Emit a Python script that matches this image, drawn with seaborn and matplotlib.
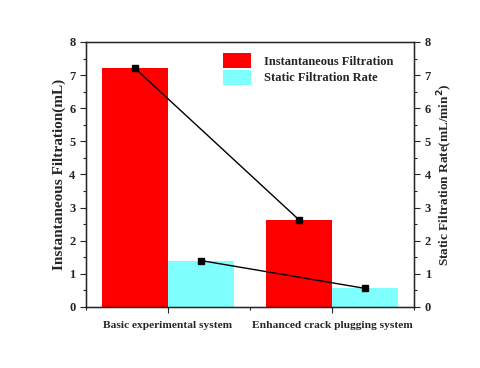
import numpy as np
import pandas as pd
import matplotlib
matplotlib.use("Agg")
import matplotlib.pyplot as plt
import seaborn as sns
from matplotlib.ticker import MultipleLocator, FixedLocator

categories = ["Basic experimental system", "Enhanced crack plugging system"]
instant_filtration = [7.2, 2.62]
static_rate = [1.4, 0.56]
series_names = ["Instantaneous Filtration", "Static Filtration Rate"]
colors = ["#ff0000", "#80ffff"]

df = pd.DataFrame({
    "system": categories * 2,
    "series": [series_names[0]] * 2 + [series_names[1]] * 2,
    "value": instant_filtration + static_rate,
})

sns.set_style("ticks")
plt.rcParams["font.family"] = ["Liberation Serif", "DejaVu Serif"]
plt.rcParams["font.weight"] = "bold"

fig = plt.figure(figsize=(4.8, 3.68), dpi=100)
ax = fig.add_axes([0.179, 0.166, 0.684, 0.720])

sns.barplot(data=df, x="system", y="value", hue="series",
            palette=colors, width=0.8, saturation=1, ax=ax, legend=True,
            linewidth=0, edgecolor="none")

# connect bar tops of each series
off = [-0.2, 0.2]
xs = np.arange(len(categories))
for vals, o in zip([instant_filtration, static_rate], off):
    ax.plot(xs + o, vals, color="black", lw=1, marker="s", ms=4, zorder=5)

ax.set_xlim(-0.5, 1.5)
ax.set_ylim(0, 8)
ax.yaxis.set_major_locator(MultipleLocator(1))
ax.yaxis.set_minor_locator(MultipleLocator(0.5))
ax.xaxis.set_minor_locator(FixedLocator([-0.5, 0.5, 1.5]))
ax.set_xlabel("")
ax.set_ylabel("Instantaneous Filtration(mL)", fontsize=11, fontweight="bold", labelpad=2)
ax.set_xticks(xs)
ax.set_xticklabels(categories, fontsize=8.2, fontweight="bold")
ax.tick_params(axis="y", labelsize=9, direction="out", length=4, width=0.8)
ax.tick_params(axis="y", which="minor", direction="out", length=2, width=0.8)
ax.tick_params(axis="x", direction="out", length=4, width=0.8, pad=6)
ax.tick_params(axis="x", which="minor", direction="out", length=2, width=0.8)
for lab in ax.get_yticklabels():
    lab.set_fontweight("bold")
for s in ax.spines.values():
    s.set_visible(True)
    s.set_linewidth(1)
    s.set_color("black")

ax2 = ax.twinx()
ax2.set_ylim(0, 8)
ax2.yaxis.set_major_locator(MultipleLocator(1))
ax2.yaxis.set_minor_locator(MultipleLocator(0.5))
ax2.tick_params(axis="y", labelsize=9, direction="out", length=4, width=0.8)
ax2.tick_params(axis="y", which="minor", direction="out", length=2, width=0.8)
for lab in ax2.get_yticklabels():
    lab.set_fontweight("bold")
ax2.set_ylabel("Static Filtration Rate(mL/min$^{\\mathbf{2}}$)", fontsize=9.5, fontweight="bold")

leg = ax.legend(loc="upper right", bbox_to_anchor=(0.97, 1.0), frameon=False,
                prop={"size": 9, "weight": "bold"}, handlelength=2.3, handleheight=1.5,
                labelspacing=0.1, handletextpad=1.0)
for h in leg.get_patches():
    h.set_edgecolor("none")

fig.savefig("out.png", dpi=100)
